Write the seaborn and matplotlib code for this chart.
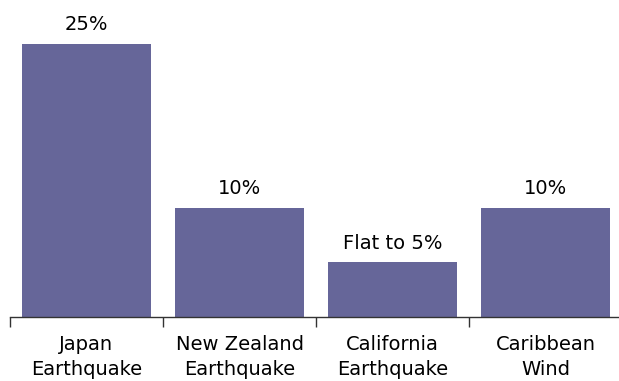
import matplotlib
matplotlib.use("Agg")
import matplotlib.pyplot as plt
import seaborn as sns
import pandas as pd
import numpy as np

categories = ["Japan\nEarthquake", "New Zealand\nEarthquake", "California\nEarthquake", "Caribbean\nWind"]
values = [25, 10, 5, 10]
value_labels = ["25%", "10%", "Flat to 5%", "10%"]

sns.set_theme(style="white")
plt.rcParams['font.family'] = ['DejaVu Sans']

df = pd.DataFrame({"cat": categories, "val": values})

W, H = 619, 381
fig = plt.figure(figsize=(W/100, H/100), dpi=100)
ax = fig.add_axes([10/W, (H-317)/H, 612/W, 305/H])
sns.barplot(data=df, x="cat", y="val", color="#666699", saturation=1, width=0.84,
            linewidth=0, ax=ax)
ax.set_xlim(-0.5, 3.5)
ax.set_ylim(0, 27.9)

for i, (v, lab) in enumerate(zip(values, value_labels)):
    ax.annotate(lab, (i, v), xytext=(0, 7), textcoords="offset points",
                ha="center", va="bottom", fontsize=14, color="#000000")

for s in ["top", "right", "left"]:
    ax.spines[s].set_visible(False)
ax.spines["bottom"].set_color("#333333")
ax.spines["bottom"].set_linewidth(1)
ax.set_yticks([])
ax.set_xlabel("")
ax.set_ylabel("")
ax.set_xticks(range(len(categories)))
ax.set_xticklabels(categories, fontsize=14, color="#000000", linespacing=1.4)
ax.tick_params(axis="x", which="major", length=0, pad=13)
ax.set_xticks(np.arange(-0.5, 3.6, 1.0), minor=True)
ax.tick_params(axis="x", which="minor", length=7, width=1, color="#333333", bottom=True)

fig.savefig("out.png", dpi=100)
